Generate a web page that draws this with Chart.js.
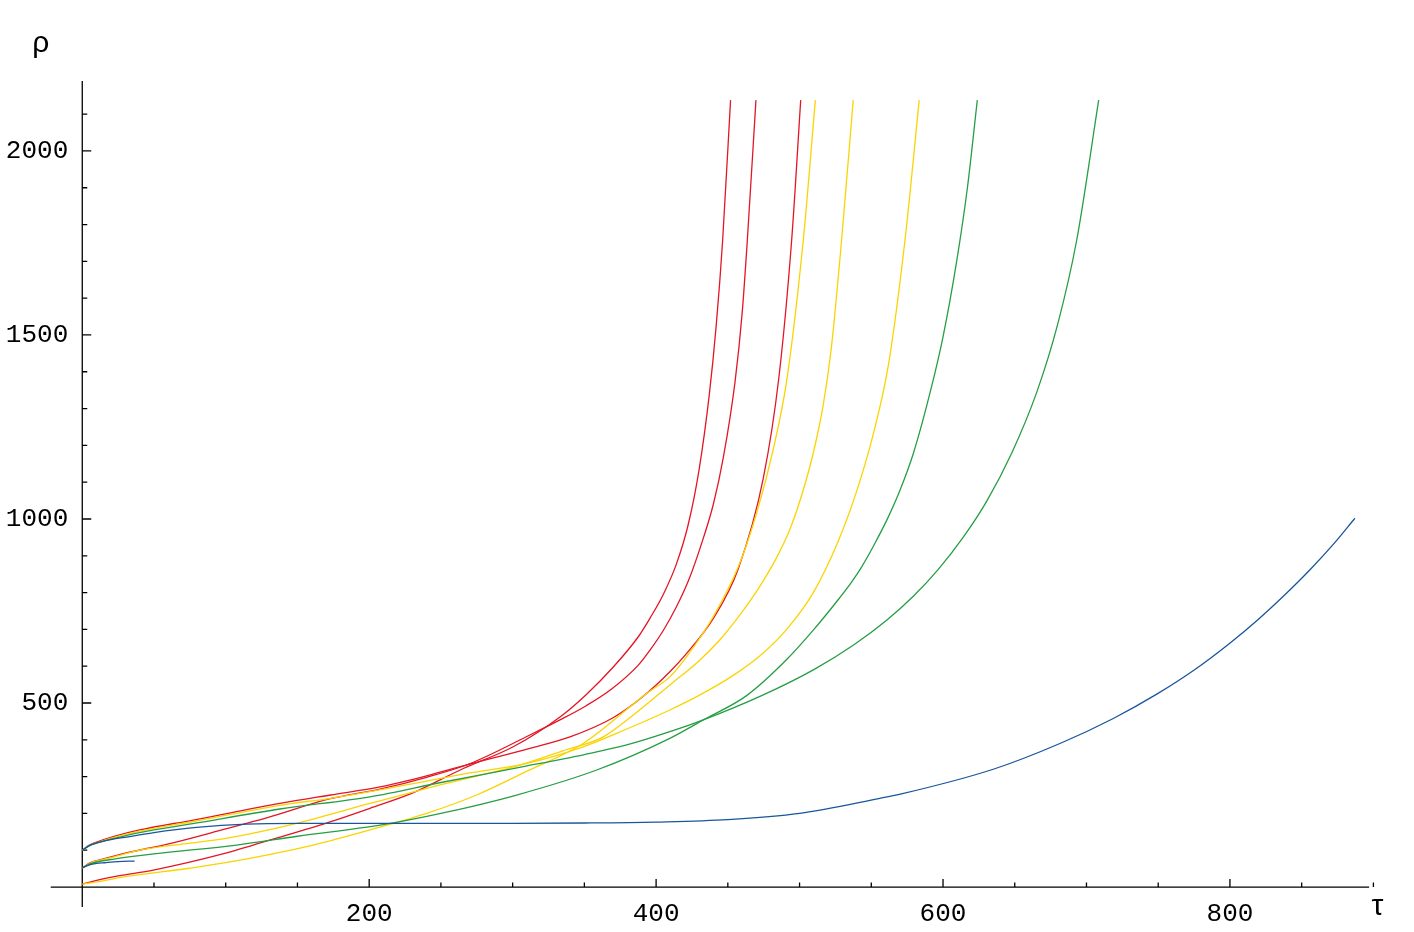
<!DOCTYPE html>
<html>
<head>
<meta charset="utf-8">
<script src="https://cdn.jsdelivr.net/npm/chart.js@4/dist/chart.umd.min.js"></script>
<style>
  html, body { margin: 0; padding: 0; background: #fff; }
  #wrap { width: 1414px; height: 932px; }
</style>
</head>
<body>
<div id="wrap"><canvas id="rhoChart" width="1414" height="932"></canvas></div>
<script>
// curves, [tau, rho]
const redA = [[0,100],[5,114],[10,122],[21.6,137],[40,155],[77.4,182],[137.8,227],[173,250],[207.5,272],[240,302],[270,334],[312,377],[340,408],[370,460],[390,515],[409.6,585],[421.3,635],[439.9,730],[457.3,865],[474.7,1110],[485.6,1385],[494.5,1758],[500.8,2138]]
const redB = [[0,52],[5,65],[10,72],[20,82],[30,92],[61,118],[100,158],[128.5,188],[173,240],[207.5,266],[240,298],[270,335],[312,413],[333,454],[351,492],[369,538],[387.6,603],[396,645],[405,697],[414,760],[422.5,832],[431,925],[439.9,1040],[447,1170],[455,1372],[460,1560],[463.6,1758],[469.6,2138]]
const redC = [[0,8],[10,18],[25,30],[49.5,46],[100,92],[119.2,114],[172.7,177],[200.5,214],[230,255],[265.6,322],[300.4,381],[333,462],[351.6,524],[370,597],[387.6,680],[396,732],[405,795],[414,876],[422.4,985],[430,1135],[437,1335],[442,1530],[446.4,1758],[451.9,2138]]

const yellowA = [[0,100],[5,113],[10,120],[21.6,134],[40,152],[77.4,178],[137.8,222],[173,241],[200.5,259],[240,288],[270,310],[309.8,336],[349.2,381],[380,430],[409.6,481],[430.6,522],[453.8,575],[474.7,636],[491,700],[509.6,800],[527,940],[541,1090],[552,1240],[562,1420],[573.5,1758],[583.4,2138]]
const yellowB = [[0,52],[5,64],[10,71],[20,80],[40,100],[75,119],[100,132],[149.4,173],[200.5,227],[250,278],[305,331],[335,370],[363.2,408],[385,470],[409.6,549],[430,615],[444.5,672],[456.2,728],[466,780],[474.7,832],[484,895],[493.3,972],[501.5,1065],[509.6,1180],[516.5,1310],[522,1460],[529.3,1758],[537.4,2138]]
const yellowC = [[0,8],[10,14],[30,28],[75,51],[100,66],[161,114],[200.5,155],[240,200],[274.9,250],[310,315],[349.2,390],[393.4,526],[409.6,571],[421.3,626],[439.9,735],[457.3,870],[470,1015],[481.7,1190],[491,1375],[502.6,1758],[511,2138]]

const greenA = [[0,100],[5,112],[10,119],[20,130],[40,148],[77,172],[137.8,212],[200.5,245],[250,284],[307.4,327],[350,360],[379.5,386],[409.6,422],[432.9,454],[474.7,522],[509.6,590],[537.4,657],[560.7,725],[579.3,790],[596.7,863],[614,950],[630.4,1048],[648,1180],[665.3,1344],[680,1530],[693.2,1758],[708.5,2138]]
const greenB = [[0,52],[5,62],[10,68],[22,76],[50,90],[107.6,114],[150,138],[207.5,168],[250,200],[302.8,250],[358.6,318],[409.6,404],[432.9,454],[463.1,520],[491,618],[510,700],[528,786],[536,827],[543.3,870],[552,930],[561.8,1005],[570,1078],[579.3,1178],[591.4,1350],[600,1495],[609.5,1700],[617,1900],[623.9,2138]]

const blueMain = [[0,100],[5,113],[10,120],[20,129],[33.2,137],[50,148],[79.7,162],[114.6,171],[150,173],[207.5,173],[300,173],[350,174],[400,176.6],[450,183],[500,200],[556,241],[571,253],[635,320],[681.5,390],[718.7,458],[749,524],[775.6,591],[798.8,659],[819.7,727],[838.3,794],[855.8,862],[872,931],[887.1,1002]]
const blueStub = [[0,52],[5,60],[10,64],[15.6,66],[25,69],[36.5,70.6]]

const xTickLabels = [200, 400, 600, 800]
const yTickLabels = [500, 1000, 1500, 2000]

const RED = 'rgb(226,22,36)'
const YELLOW = 'rgb(250,212,0)'
const GREEN = 'rgb(38,158,68)'
const BLUE = 'rgb(26,86,156)'

function curve(points, color) {
  return {
    data: points.map(p => ({ x: p[0], y: p[1] })),
    borderColor: color,
    borderWidth: 1.3,
    showLine: true,
    pointRadius: 0,
    fill: false,
    cubicInterpolationMode: 'monotone',
  }
}

// axes through the origin, ticks pointing inward, Mathematica style
const axesPlugin = {
  id: 'axes',
  beforeDatasetsDraw(chart) {
    const { ctx, chartArea, scales } = chart
    const xs = scales.x, ys = scales.y
    const x0 = xs.getPixelForValue(0)
    const y0 = ys.getPixelForValue(0)
    ctx.save()
    ctx.strokeStyle = '#000'
    ctx.lineWidth = 1.3
    ctx.beginPath()
    ctx.moveTo(chartArea.left, y0)
    ctx.lineTo(xs.getPixelForValue(897), y0)
    ctx.moveTo(x0, chartArea.bottom)
    ctx.lineTo(x0, chartArea.top)
    for (let t = 50; t <= 900; t += 50) {
      const px = xs.getPixelForValue(t)
      const len = t % 200 === 0 ? 8 : 4.5
      ctx.moveTo(px, y0)
      ctx.lineTo(px, y0 - len)
    }
    for (let r = 100; r <= 2100; r += 100) {
      const py = ys.getPixelForValue(r)
      const len = r % 500 === 0 ? 9 : 5
      ctx.moveTo(x0, py)
      ctx.lineTo(x0 + len, py)
    }
    ctx.stroke()
    ctx.restore()
  },
  afterDraw(chart) {
    const { ctx, chartArea, scales } = chart
    const xs = scales.x, ys = scales.y
    const x0 = xs.getPixelForValue(0)
    const y0 = ys.getPixelForValue(0)
    ctx.save()
    ctx.fillStyle = '#000'
    ctx.font = '26px "Liberation Mono", "DejaVu Sans Mono", monospace'
    ctx.textBaseline = 'middle'
    ctx.textAlign = 'center'
    xTickLabels.forEach(v => ctx.fillText(String(v), xs.getPixelForValue(v), y0 + 27))
    ctx.textAlign = 'right'
    yTickLabels.forEach(v => ctx.fillText(String(v), x0 - 14, ys.getPixelForValue(v)))
    ctx.font = '30px "Liberation Sans", Arial, sans-serif'
    ctx.textAlign = 'left'
    ctx.textBaseline = 'alphabetic'
    ctx.fillText('ρ', x0 - 50, chartArea.top - 29)
    ctx.fillText('τ', chartArea.right - 2, y0 + 28)
    ctx.restore()
  },
}

document.addEventListener('DOMContentLoaded', function () {
  const ctx = document.getElementById('rhoChart')

  new Chart(ctx, {
    type: 'scatter',
    data: {
      datasets: [
        curve(blueMain, BLUE),
        curve(blueStub, BLUE),
        curve(greenA, GREEN),
        curve(greenB, GREEN),
        curve(yellowA, YELLOW),
        curve(yellowB, YELLOW),
        curve(yellowC, YELLOW),
        curve(redA, RED),
        curve(redB, RED),
        curve(redC, RED),
      ],
    },
    options: {
      responsive: false,
      animation: false,
      layout: { padding: { left: 50.7, right: 40.6, top: 81, bottom: 25.1 } },
      plugins: { legend: { display: false }, tooltip: { enabled: false } },
      scales: {
        x: { type: 'linear', min: -22, max: 900, display: false },
        y: { type: 'linear', min: -54, max: 2190, display: false },
      },
    },
    plugins: [axesPlugin],
  })
})
</script>
</body>
</html>
